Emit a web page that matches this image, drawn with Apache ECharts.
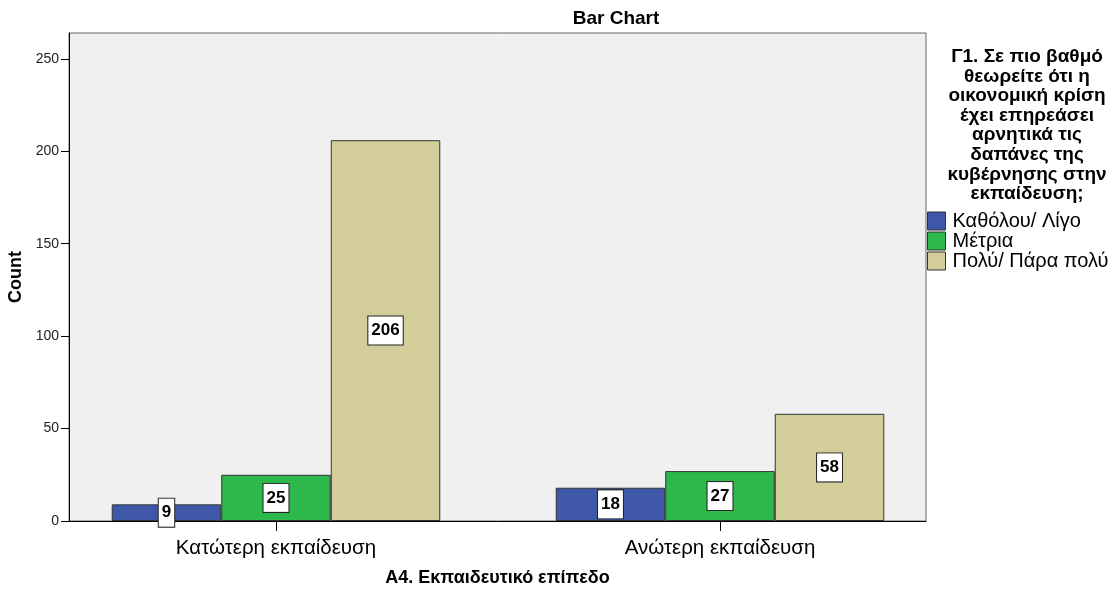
<!DOCTYPE html>
<html>
<head>
<meta charset="utf-8">
<script src="https://cdn.jsdelivr.net/npm/echarts@6/dist/echarts.min.js"></script>
<style>
  html, body { margin: 0; padding: 0; background: #fff; }
  #chart { width: 1117px; height: 589px; }
</style>
</head>
<body>
<div id="chart"></div>
<script>
// data
const categories = ['Κατώτερη εκπαίδευση', 'Ανώτερη εκπαίδευση'];
const seriesNames = ['Καθόλου/ Λίγο', 'Μέτρια', 'Πολύ/ Πάρα πολύ'];
const lowValues = [9, 18];
const midValues = [25, 27];
const highValues = [206, 58];
const yTicks = [0, 50, 100, 150, 200, 250];
const yMax = 264;

const colors = ['#3e57a9', '#2db84b', '#d3ce99'];
const FONT = '"Liberation Sans", Arial, sans-serif';

const legendTitle = 'Γ1. Σε πιο βαθμό\nθεωρείτε ότι η\nοικονομική κρίση\nέχει επηρεάσει\nαρνητικά τις\nδαπάνες της\nκυβέρνησης στην\nεκπαίδευση;';

const chart = echarts.init(document.getElementById('chart'), null, { renderer: 'canvas' });

function makeSeries(name, values, color) {
    return {
        name: name,
        type: 'bar',
        xAxisIndex: 1,
        yAxisIndex: 1,
        data: values,
        barGap: '0%',
        barCategoryGap: '26%',
        itemStyle: { color: color, borderColor: '#333', borderWidth: 1 },
        label: {
            show: true,
            position: 'inside',
            color: '#000',
            fontFamily: FONT,
            fontWeight: 'bold',
            fontSize: 17,
            lineHeight: 16,
            backgroundColor: '#fff',
            borderColor: '#222',
            borderWidth: 1,
            padding: [6, 3, 6, 3]
        },
        emphasis: { disabled: true }
    };
}

const option = {
    animation: false,
    backgroundColor: '#fff',
    title: [
        {
            text: 'Bar Chart',
            left: 611, top: 4, textAlign: 'center',
            textStyle: { fontFamily: FONT, fontSize: 19, fontWeight: 'bold', color: '#000' }
        },
        {
            text: legendTitle,
            left: 1022, top: 42, textAlign: 'center',
            textStyle: { fontFamily: FONT, fontSize: 19, fontWeight: 'bold', color: '#000', lineHeight: 19.6 }
        }
    ],
    legend: {
        orient: 'vertical',
        left: 922, top: 206,
        itemWidth: 18, itemHeight: 18, itemGap: 0,
        icon: 'rect',
        data: seriesNames,
        itemStyle: { borderColor: '#333', borderWidth: 1 },
        textStyle: { fontFamily: FONT, fontSize: 20, lineHeight: 20, color: '#000', padding: [0, 0, 0, 2] },
        selectedMode: false
    },
    grid: [
        // visible plot frame
        { left: 69, width: 857, top: 33, bottom: 68, outerBoundsMode: 'none', containLabel: false,
          show: true, backgroundColor: '#f0f0f0', borderColor: '#666', borderWidth: 1 },
        // bars (wider so category centres sit where SPSS puts them)
        { left: 54, width: 888, top: 33, bottom: 68, outerBoundsMode: 'none', containLabel: false }
    ],
    xAxis: [
        {
            gridIndex: 0, type: 'category', data: categories,
            axisLine: { show: true, lineStyle: { color: '#000', width: 1 } },
            axisTick: { show: false }, axisLabel: { show: false },
            name: 'Α4. Εκπαιδευτικό επίπεδο', nameLocation: 'middle', nameGap: 48,
            nameTextStyle: { fontFamily: FONT, fontSize: 18, fontWeight: 'bold', color: '#000' }
        },
        {
            gridIndex: 1, type: 'category', data: categories,
            axisLine: { show: false },
            axisTick: { show: true, alignWithLabel: true, length: 10, lineStyle: { color: '#000' } },
            axisLabel: { fontFamily: FONT, fontSize: 20.5, color: '#000', margin: 17 }
        }
    ],
    yAxis: [
        {
            gridIndex: 0, type: 'value', min: 0, max: yMax, interval: 50,
            axisLine: { show: true, lineStyle: { color: '#000' } },
            axisTick: { show: true, length: 8, lineStyle: { color: '#000' }, customValues: yTicks },
            axisLabel: { fontFamily: FONT, fontSize: 14, color: '#222', margin: 10, customValues: yTicks },
            splitLine: { show: false },
            name: 'Count', nameLocation: 'middle', nameGap: 39, nameRotate: 90,
            nameTextStyle: { fontFamily: FONT, fontSize: 18, fontWeight: 'bold', color: '#000' }
        },
        {
            gridIndex: 1, type: 'value', min: 0, max: yMax,
            show: false, splitLine: { show: false }
        }
    ],
    series: [
        makeSeries(seriesNames[0], lowValues, colors[0]),
        makeSeries(seriesNames[1], midValues, colors[1]),
        makeSeries(seriesNames[2], highValues, colors[2])
    ]
};

chart.setOption(option);
</script>
</body>
</html>
